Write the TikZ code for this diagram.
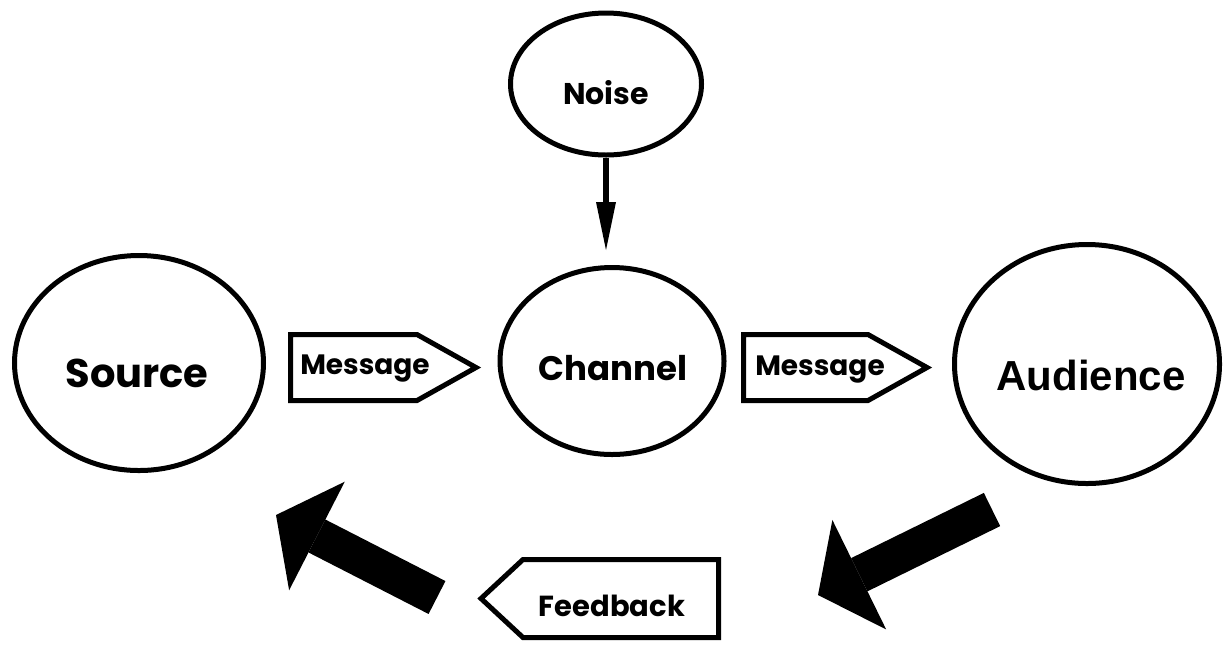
\documentclass[tikz,border=0pt]{standalone}
\usepackage{fontspec}
\usepackage{tikz}
\usetikzlibrary{arrows.meta,shapes.geometric}
\newfontfamily\comicfont{Poppins}
\newfontfamily\arialfont{Liberation Sans}

\begin{document}
\begin{tikzpicture}[x=0.5pt, y=-0.5pt, >=Latex,
  oval/.style={draw,ellipse,line width=2.5pt,inner sep=0pt},
  txt/.style={font=\comicfont\bfseries\fontsize{#1}{#1}\selectfont},
  tag/.style={draw,line width=2.5pt,line join=miter},
  bigarrow/.style={line width=18.5pt,-{Triangle[length=23pt,width=61pt,line width=0pt]}}]
\useasboundingbox (0,0) rectangle (1229,644);

\node(noise)[oval,minimum width=95.5pt,minimum height=71pt] at (606,84){};
\node(source)[oval,minimum width=124.5pt,minimum height=107.5pt] at (139,363){};
\node(channel)[oval,minimum width=112pt,minimum height=93.5pt] at (612,361){};
\node(audience)[oval,minimum width=132.5pt,minimum height=119.5pt] at (1087,364){};

\node(noisetxt)[txt=15] at (606,93){Noise};
\node(sourcetxt)[txt=20] at (137,373){Source};
\node(channeltxt)[txt=17] at (613,368){Channel};
\node(audiencetxt)[font=\arialfont\bfseries\fontsize{21}{21}\selectfont] at (1091,375){Audience};

% message and feedback tags
\draw[tag] (290.5,334.5) -- (417,334.5) -- (476,367.5) -- (417,400.5) -- (290.5,400.5) -- cycle;
\node(msgA)[txt=14] at (365,369){Message};
\draw[tag] (743.5,334.5) -- (868,334.5) -- (927,367.5) -- (868,400.5) -- (743.5,400.5) -- cycle;
\node(msgB)[txt=14] at (820,370){Message};
\draw[tag] (481,598.5) -- (523,559.5) -- (718.5,559.5) -- (718.5,637.5) -- (523,637.5) -- cycle;
\node(feedback)[txt=14.5] at (612,606){Feedback};

\draw[line width=3pt,-{Triangle[length=24pt,width=10pt,line width=0pt]}] (noise.south) -- ([yshift=7.5pt]noise.south |- channel.north);

\coordinate(backA) at (992,509.5);
\coordinate(backB) at (818,595);
\coordinate(backC) at (437,597.5);
\coordinate(backD) at (276,515);
\draw[bigarrow] (backA) -- (backB);
\draw[bigarrow] (backC) -- (backD);
\end{tikzpicture}
\end{document}
